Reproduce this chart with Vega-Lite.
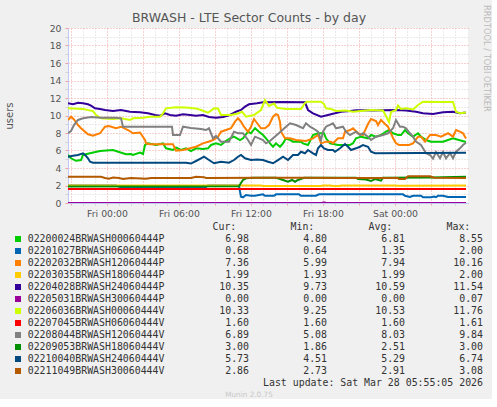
{
"$schema": "https://vega.github.io/schema/vega-lite/v6.json",
"background": "#f0f0f0",
"padding": {"left": 4, "top": 5, "right": 0, "bottom": 0},
"bounds": "flush",
"spacing": 24,
"title": {"text": "RRDTOOL / TOBI OETIKER", "orient": "right", "anchor": "start", "frame": "group", "fontSize": 8.3, "font": "DejaVu Sans", "fontWeight": "normal", "color": "#bbbbbb", "offset": 0, "dx": -23},
"config": {"view": {"stroke": null}, "font": "DejaVu Sans"},
"datasets": {
"stats": [
{"name": "02200024BRWASH00060444P", "Cur": 6.98, "Min": 4.80, "Avg": 6.81, "Max": 8.55},
{"name": "02201027BRWASH06060444P", "Cur": 0.68, "Min": 0.64, "Avg": 1.35, "Max": 2.00},
{"name": "02202032BRWASH12060444P", "Cur": 7.36, "Min": 5.99, "Avg": 7.94, "Max": 10.16},
{"name": "02203035BRWASH18060444P", "Cur": 1.99, "Min": 1.93, "Avg": 1.99, "Max": 2.00},
{"name": "02204028BRWASH24060444P", "Cur": 10.35, "Min": 9.73, "Avg": 10.59, "Max": 11.54},
{"name": "02205031BRWASH30060444P", "Cur": 0.00, "Min": 0.00, "Avg": 0.00, "Max": 0.07},
{"name": "02206036BRWASH00060444V", "Cur": 10.33, "Min": 9.25, "Avg": 10.53, "Max": 11.76},
{"name": "02207045BRWASH06060444V", "Cur": 1.60, "Min": 1.60, "Avg": 1.60, "Max": 1.61},
{"name": "02208044BRWASH12060444V", "Cur": 6.89, "Min": 5.08, "Avg": 8.03, "Max": 9.84},
{"name": "02209053BRWASH18060444V", "Cur": 3.00, "Min": 1.86, "Avg": 2.51, "Max": 3.00},
{"name": "02210040BRWASH24060444V", "Cur": 5.73, "Min": 4.51, "Avg": 5.29, "Max": 6.74},
{"name": "02211049BRWASH30060444V", "Cur": 2.86, "Min": 2.73, "Avg": 2.91, "Max": 3.08}
],
"notes": [
{"row": "hdr", "col": "Cur", "text": "Cur:"},
{"row": "hdr", "col": "Min", "text": "Min:"},
{"row": "hdr", "col": "Avg", "text": "Avg:"},
{"row": "hdr", "col": "Max", "text": "Max:"},
{"row": "upd", "col": "Max", "text": "Last update: Sat Mar 28 05:55:05 2026"},
{"row": "mun", "col": "Cur", "text": "Munin 2.0.75"}
],
"lines": [
{"s":"02200024BRWASH00060444P","t":"2026-03-26T20:45Z","v":5.49},
{"s":"02200024BRWASH00060444P","t":"2026-03-26T21:00Z","v":5.11},
{"s":"02200024BRWASH00060444P","t":"2026-03-26T21:25Z","v":4.82},
{"s":"02200024BRWASH00060444P","t":"2026-03-26T21:50Z","v":4.91},
{"s":"02200024BRWASH00060444P","t":"2026-03-26T22:00Z","v":5.49},
{"s":"02200024BRWASH00060444P","t":"2026-03-26T22:35Z","v":5.68},
{"s":"02200024BRWASH00060444P","t":"2026-03-26T23:25Z","v":5.94},
{"s":"02200024BRWASH00060444P","t":"2026-03-27T00:30Z","v":6.06},
{"s":"02200024BRWASH00060444P","t":"2026-03-27T01:00Z","v":5.83},
{"s":"02200024BRWASH00060444P","t":"2026-03-27T01:35Z","v":5.57},
{"s":"02200024BRWASH00060444P","t":"2026-03-27T02:00Z","v":5.6},
{"s":"02200024BRWASH00060444P","t":"2026-03-27T02:10Z","v":5.49},
{"s":"02200024BRWASH00060444P","t":"2026-03-27T02:45Z","v":5.77},
{"s":"02200024BRWASH00060444P","t":"2026-03-27T03:00Z","v":5.6},
{"s":"02200024BRWASH00060444P","t":"2026-03-27T03:10Z","v":6.63},
{"s":"02200024BRWASH00060444P","t":"2026-03-27T03:25Z","v":6.82},
{"s":"02200024BRWASH00060444P","t":"2026-03-27T04:05Z","v":6.63},
{"s":"02200024BRWASH00060444P","t":"2026-03-27T04:40Z","v":6.82},
{"s":"02200024BRWASH00060444P","t":"2026-03-27T04:55Z","v":6.25},
{"s":"02200024BRWASH00060444P","t":"2026-03-27T05:30Z","v":6.06},
{"s":"02200024BRWASH00060444P","t":"2026-03-27T05:45Z","v":6.34},
{"s":"02200024BRWASH00060444P","t":"2026-03-27T06:10Z","v":6.06},
{"s":"02200024BRWASH00060444P","t":"2026-03-27T06:35Z","v":6.25},
{"s":"02200024BRWASH00060444P","t":"2026-03-27T07:00Z","v":5.94},
{"s":"02200024BRWASH00060444P","t":"2026-03-27T07:25Z","v":6.25},
{"s":"02200024BRWASH00060444P","t":"2026-03-27T08:00Z","v":6.17},
{"s":"02200024BRWASH00060444P","t":"2026-03-27T08:25Z","v":6.25},
{"s":"02200024BRWASH00060444P","t":"2026-03-27T08:40Z","v":6.63},
{"s":"02200024BRWASH00060444P","t":"2026-03-27T09:05Z","v":6.82},
{"s":"02200024BRWASH00060444P","t":"2026-03-27T09:30Z","v":6.63},
{"s":"02200024BRWASH00060444P","t":"2026-03-27T09:50Z","v":7.01},
{"s":"02200024BRWASH00060444P","t":"2026-03-27T10:15Z","v":7.39},
{"s":"02200024BRWASH00060444P","t":"2026-03-27T10:35Z","v":7.58},
{"s":"02200024BRWASH00060444P","t":"2026-03-27T11:05Z","v":7.2},
{"s":"02200024BRWASH00060444P","t":"2026-03-27T11:20Z","v":7.39},
{"s":"02200024BRWASH00060444P","t":"2026-03-27T11:45Z","v":8.15},
{"s":"02200024BRWASH00060444P","t":"2026-03-27T12:00Z","v":7.97},
{"s":"02200024BRWASH00060444P","t":"2026-03-27T12:20Z","v":8.55},
{"s":"02200024BRWASH00060444P","t":"2026-03-27T12:40Z","v":8.15},
{"s":"02200024BRWASH00060444P","t":"2026-03-27T13:00Z","v":7.77},
{"s":"02200024BRWASH00060444P","t":"2026-03-27T13:15Z","v":7.39},
{"s":"02200024BRWASH00060444P","t":"2026-03-27T13:35Z","v":6.82},
{"s":"02200024BRWASH00060444P","t":"2026-03-27T13:50Z","v":6.43},
{"s":"02200024BRWASH00060444P","t":"2026-03-27T14:05Z","v":6.82},
{"s":"02200024BRWASH00060444P","t":"2026-03-27T14:25Z","v":6.43},
{"s":"02200024BRWASH00060444P","t":"2026-03-27T14:40Z","v":6.82},
{"s":"02200024BRWASH00060444P","t":"2026-03-27T14:55Z","v":7.39},
{"s":"02200024BRWASH00060444P","t":"2026-03-27T15:15Z","v":7.2},
{"s":"02200024BRWASH00060444P","t":"2026-03-27T15:30Z","v":7.01},
{"s":"02200024BRWASH00060444P","t":"2026-03-27T16:10Z","v":7.01},
{"s":"02200024BRWASH00060444P","t":"2026-03-27T16:20Z","v":6.82},
{"s":"02200024BRWASH00060444P","t":"2026-03-27T16:45Z","v":6.63},
{"s":"02200024BRWASH00060444P","t":"2026-03-27T16:55Z","v":7.09},
{"s":"02200024BRWASH00060444P","t":"2026-03-27T17:10Z","v":7.77},
{"s":"02200024BRWASH00060444P","t":"2026-03-27T17:35Z","v":7.97},
{"s":"02200024BRWASH00060444P","t":"2026-03-27T18:05Z","v":7.97},
{"s":"02200024BRWASH00060444P","t":"2026-03-27T18:15Z","v":7.39},
{"s":"02200024BRWASH00060444P","t":"2026-03-27T18:35Z","v":6.82},
{"s":"02200024BRWASH00060444P","t":"2026-03-27T19:15Z","v":6.63},
{"s":"02200024BRWASH00060444P","t":"2026-03-27T20:15Z","v":6.63},
{"s":"02200024BRWASH00060444P","t":"2026-03-27T20:30Z","v":6.82},
{"s":"02200024BRWASH00060444P","t":"2026-03-27T20:45Z","v":7.39},
{"s":"02200024BRWASH00060444P","t":"2026-03-27T21:10Z","v":7.58},
{"s":"02200024BRWASH00060444P","t":"2026-03-27T21:45Z","v":7.39},
{"s":"02200024BRWASH00060444P","t":"2026-03-27T22:00Z","v":7.77},
{"s":"02200024BRWASH00060444P","t":"2026-03-27T22:25Z","v":7.58},
{"s":"02200024BRWASH00060444P","t":"2026-03-27T22:50Z","v":7.77},
{"s":"02200024BRWASH00060444P","t":"2026-03-27T23:15Z","v":8.15},
{"s":"02200024BRWASH00060444P","t":"2026-03-27T23:30Z","v":8.34},
{"s":"02200024BRWASH00060444P","t":"2026-03-27T23:50Z","v":7.97},
{"s":"02200024BRWASH00060444P","t":"2026-03-28T00:15Z","v":7.77},
{"s":"02200024BRWASH00060444P","t":"2026-03-28T00:30Z","v":7.77},
{"s":"02200024BRWASH00060444P","t":"2026-03-28T00:50Z","v":8.34},
{"s":"02200024BRWASH00060444P","t":"2026-03-28T01:05Z","v":7.97},
{"s":"02200024BRWASH00060444P","t":"2026-03-28T01:30Z","v":7.58},
{"s":"02200024BRWASH00060444P","t":"2026-03-28T01:55Z","v":7.97},
{"s":"02200024BRWASH00060444P","t":"2026-03-28T02:10Z","v":7.58},
{"s":"02200024BRWASH00060444P","t":"2026-03-28T02:35Z","v":7.2},
{"s":"02200024BRWASH00060444P","t":"2026-03-28T03:00Z","v":7.01},
{"s":"02200024BRWASH00060444P","t":"2026-03-28T04:00Z","v":7.01},
{"s":"02200024BRWASH00060444P","t":"2026-03-28T04:25Z","v":7.2},
{"s":"02200024BRWASH00060444P","t":"2026-03-28T04:50Z","v":7.39},
{"s":"02200024BRWASH00060444P","t":"2026-03-28T05:55Z","v":6.98},
{"s":"02201027BRWASH06060444P","t":"2026-03-26T20:45Z","v":2.0},
{"s":"02201027BRWASH06060444P","t":"2026-03-27T00:45Z","v":2.0},
{"s":"02201027BRWASH06060444P","t":"2026-03-27T01:05Z","v":1.82},
{"s":"02201027BRWASH06060444P","t":"2026-03-27T08:15Z","v":1.82},
{"s":"02201027BRWASH06060444P","t":"2026-03-27T08:25Z","v":2.0},
{"s":"02201027BRWASH06060444P","t":"2026-03-27T11:00Z","v":2.0},
{"s":"02201027BRWASH06060444P","t":"2026-03-27T11:05Z","v":1.3},
{"s":"02201027BRWASH06060444P","t":"2026-03-27T11:10Z","v":0.72},
{"s":"02201027BRWASH06060444P","t":"2026-03-27T11:20Z","v":0.64},
{"s":"02201027BRWASH06060444P","t":"2026-03-27T11:35Z","v":0.91},
{"s":"02201027BRWASH06060444P","t":"2026-03-27T12:00Z","v":0.83},
{"s":"02201027BRWASH06060444P","t":"2026-03-27T12:20Z","v":0.83},
{"s":"02201027BRWASH06060444P","t":"2026-03-27T12:40Z","v":0.91},
{"s":"02201027BRWASH06060444P","t":"2026-03-27T13:00Z","v":0.99},
{"s":"02201027BRWASH06060444P","t":"2026-03-27T13:10Z","v":0.83},
{"s":"02201027BRWASH06060444P","t":"2026-03-27T13:55Z","v":0.83},
{"s":"02201027BRWASH06060444P","t":"2026-03-27T14:05Z","v":0.99},
{"s":"02201027BRWASH06060444P","t":"2026-03-27T16:00Z","v":0.99},
{"s":"02201027BRWASH06060444P","t":"2026-03-27T16:10Z","v":0.83},
{"s":"02201027BRWASH06060444P","t":"2026-03-27T17:25Z","v":0.83},
{"s":"02201027BRWASH06060444P","t":"2026-03-27T17:40Z","v":0.99},
{"s":"02201027BRWASH06060444P","t":"2026-03-28T00:40Z","v":0.99},
{"s":"02201027BRWASH06060444P","t":"2026-03-28T00:50Z","v":0.83},
{"s":"02201027BRWASH06060444P","t":"2026-03-28T01:15Z","v":0.69},
{"s":"02201027BRWASH06060444P","t":"2026-03-28T01:30Z","v":0.83},
{"s":"02201027BRWASH06060444P","t":"2026-03-28T02:10Z","v":0.83},
{"s":"02201027BRWASH06060444P","t":"2026-03-28T02:20Z","v":0.66},
{"s":"02201027BRWASH06060444P","t":"2026-03-28T03:00Z","v":0.66},
{"s":"02201027BRWASH06060444P","t":"2026-03-28T03:15Z","v":0.74},
{"s":"02201027BRWASH06060444P","t":"2026-03-28T03:25Z","v":0.66},
{"s":"02201027BRWASH06060444P","t":"2026-03-28T03:35Z","v":0.83},
{"s":"02201027BRWASH06060444P","t":"2026-03-28T04:00Z","v":0.83},
{"s":"02201027BRWASH06060444P","t":"2026-03-28T04:25Z","v":0.69},
{"s":"02201027BRWASH06060444P","t":"2026-03-28T05:55Z","v":0.68},
{"s":"02202032BRWASH12060444P","t":"2026-03-26T20:45Z","v":9.49},
{"s":"02202032BRWASH12060444P","t":"2026-03-26T21:00Z","v":9.86},
{"s":"02202032BRWASH12060444P","t":"2026-03-26T21:15Z","v":9.54},
{"s":"02202032BRWASH12060444P","t":"2026-03-26T21:35Z","v":8.91},
{"s":"02202032BRWASH12060444P","t":"2026-03-26T21:50Z","v":8.54},
{"s":"02202032BRWASH12060444P","t":"2026-03-26T22:25Z","v":7.85},
{"s":"02202032BRWASH12060444P","t":"2026-03-26T22:50Z","v":7.69},
{"s":"02202032BRWASH12060444P","t":"2026-03-26T23:25Z","v":7.97},
{"s":"02202032BRWASH12060444P","t":"2026-03-26T23:50Z","v":8.72},
{"s":"02202032BRWASH12060444P","t":"2026-03-27T00:10Z","v":8.8},
{"s":"02202032BRWASH12060444P","t":"2026-03-27T00:45Z","v":8.54},
{"s":"02202032BRWASH12060444P","t":"2026-03-27T01:10Z","v":8.72},
{"s":"02202032BRWASH12060444P","t":"2026-03-27T01:45Z","v":8.34},
{"s":"02202032BRWASH12060444P","t":"2026-03-27T02:10Z","v":7.97},
{"s":"02202032BRWASH12060444P","t":"2026-03-27T02:45Z","v":8.06},
{"s":"02202032BRWASH12060444P","t":"2026-03-27T03:10Z","v":7.2},
{"s":"02202032BRWASH12060444P","t":"2026-03-27T03:15Z","v":6.82},
{"s":"02202032BRWASH12060444P","t":"2026-03-27T03:35Z","v":6.71},
{"s":"02202032BRWASH12060444P","t":"2026-03-27T05:30Z","v":6.71},
{"s":"02202032BRWASH12060444P","t":"2026-03-27T05:45Z","v":5.99},
{"s":"02202032BRWASH12060444P","t":"2026-03-27T06:20Z","v":6.06},
{"s":"02202032BRWASH12060444P","t":"2026-03-27T06:55Z","v":6.25},
{"s":"02202032BRWASH12060444P","t":"2026-03-27T07:25Z","v":6.43},
{"s":"02202032BRWASH12060444P","t":"2026-03-27T08:00Z","v":6.82},
{"s":"02202032BRWASH12060444P","t":"2026-03-27T08:30Z","v":7.03},
{"s":"02202032BRWASH12060444P","t":"2026-03-27T08:50Z","v":7.2},
{"s":"02202032BRWASH12060444P","t":"2026-03-27T09:15Z","v":7.58},
{"s":"02202032BRWASH12060444P","t":"2026-03-27T09:30Z","v":8.15},
{"s":"02202032BRWASH12060444P","t":"2026-03-27T09:55Z","v":8.34},
{"s":"02202032BRWASH12060444P","t":"2026-03-27T10:20Z","v":8.54},
{"s":"02202032BRWASH12060444P","t":"2026-03-27T10:40Z","v":9.29},
{"s":"02202032BRWASH12060444P","t":"2026-03-27T10:55Z","v":9.68},
{"s":"02202032BRWASH12060444P","t":"2026-03-27T11:10Z","v":9.29},
{"s":"02202032BRWASH12060444P","t":"2026-03-27T11:25Z","v":8.72},
{"s":"02202032BRWASH12060444P","t":"2026-03-27T11:45Z","v":8.15},
{"s":"02202032BRWASH12060444P","t":"2026-03-27T12:00Z","v":8.72},
{"s":"02202032BRWASH12060444P","t":"2026-03-27T12:15Z","v":9.6},
{"s":"02202032BRWASH12060444P","t":"2026-03-27T12:30Z","v":9.14},
{"s":"02202032BRWASH12060444P","t":"2026-03-27T12:50Z","v":8.54},
{"s":"02202032BRWASH12060444P","t":"2026-03-27T13:10Z","v":8.54},
{"s":"02202032BRWASH12060444P","t":"2026-03-27T13:30Z","v":8.91},
{"s":"02202032BRWASH12060444P","t":"2026-03-27T13:50Z","v":9.86},
{"s":"02202032BRWASH12060444P","t":"2026-03-27T14:05Z","v":10.16},
{"s":"02202032BRWASH12060444P","t":"2026-03-27T14:15Z","v":10.06},
{"s":"02202032BRWASH12060444P","t":"2026-03-27T14:25Z","v":9.26},
{"s":"02202032BRWASH12060444P","t":"2026-03-27T14:30Z","v":8.15},
{"s":"02202032BRWASH12060444P","t":"2026-03-27T14:50Z","v":7.39},
{"s":"02202032BRWASH12060444P","t":"2026-03-27T15:15Z","v":7.39},
{"s":"02202032BRWASH12060444P","t":"2026-03-27T15:45Z","v":7.2},
{"s":"02202032BRWASH12060444P","t":"2026-03-27T16:35Z","v":7.09},
{"s":"02202032BRWASH12060444P","t":"2026-03-27T17:10Z","v":7.39},
{"s":"02202032BRWASH12060444P","t":"2026-03-27T17:35Z","v":7.77},
{"s":"02202032BRWASH12060444P","t":"2026-03-27T17:50Z","v":6.82},
{"s":"02202032BRWASH12060444P","t":"2026-03-27T18:15Z","v":7.01},
{"s":"02202032BRWASH12060444P","t":"2026-03-27T18:40Z","v":7.01},
{"s":"02202032BRWASH12060444P","t":"2026-03-27T18:50Z","v":6.82},
{"s":"02202032BRWASH12060444P","t":"2026-03-27T19:15Z","v":7.39},
{"s":"02202032BRWASH12060444P","t":"2026-03-27T19:40Z","v":7.39},
{"s":"02202032BRWASH12060444P","t":"2026-03-27T19:50Z","v":8.15},
{"s":"02202032BRWASH12060444P","t":"2026-03-27T20:15Z","v":8.34},
{"s":"02202032BRWASH12060444P","t":"2026-03-27T20:30Z","v":8.54},
{"s":"02202032BRWASH12060444P","t":"2026-03-27T20:55Z","v":7.97},
{"s":"02202032BRWASH12060444P","t":"2026-03-27T21:20Z","v":7.77},
{"s":"02202032BRWASH12060444P","t":"2026-03-27T21:45Z","v":9.03},
{"s":"02202032BRWASH12060444P","t":"2026-03-27T22:00Z","v":9.6},
{"s":"02202032BRWASH12060444P","t":"2026-03-27T22:25Z","v":9.37},
{"s":"02202032BRWASH12060444P","t":"2026-03-27T22:35Z","v":8.91},
{"s":"02202032BRWASH12060444P","t":"2026-03-27T22:50Z","v":9.49},
{"s":"02202032BRWASH12060444P","t":"2026-03-27T23:10Z","v":9.03},
{"s":"02202032BRWASH12060444P","t":"2026-03-27T23:25Z","v":8.72},
{"s":"02202032BRWASH12060444P","t":"2026-03-27T23:50Z","v":7.43},
{"s":"02202032BRWASH12060444P","t":"2026-03-28T00:05Z","v":6.82},
{"s":"02202032BRWASH12060444P","t":"2026-03-28T00:20Z","v":6.63},
{"s":"02202032BRWASH12060444P","t":"2026-03-28T01:10Z","v":6.63},
{"s":"02202032BRWASH12060444P","t":"2026-03-28T01:30Z","v":6.82},
{"s":"02202032BRWASH12060444P","t":"2026-03-28T01:55Z","v":7.58},
{"s":"02202032BRWASH12060444P","t":"2026-03-28T02:10Z","v":7.58},
{"s":"02202032BRWASH12060444P","t":"2026-03-28T02:30Z","v":7.01},
{"s":"02202032BRWASH12060444P","t":"2026-03-28T02:55Z","v":7.77},
{"s":"02202032BRWASH12060444P","t":"2026-03-28T03:25Z","v":7.77},
{"s":"02202032BRWASH12060444P","t":"2026-03-28T03:50Z","v":7.58},
{"s":"02202032BRWASH12060444P","t":"2026-03-28T04:25Z","v":7.97},
{"s":"02202032BRWASH12060444P","t":"2026-03-28T04:50Z","v":7.58},
{"s":"02202032BRWASH12060444P","t":"2026-03-28T05:05Z","v":8.34},
{"s":"02202032BRWASH12060444P","t":"2026-03-28T05:25Z","v":8.15},
{"s":"02202032BRWASH12060444P","t":"2026-03-28T05:40Z","v":7.97},
{"s":"02202032BRWASH12060444P","t":"2026-03-28T05:55Z","v":7.36},
{"s":"02203035BRWASH18060444P","t":"2026-03-26T20:45Z","v":2.0},
{"s":"02203035BRWASH18060444P","t":"2026-03-27T12:50Z","v":2.0},
{"s":"02203035BRWASH18060444P","t":"2026-03-27T13:00Z","v":1.95},
{"s":"02203035BRWASH18060444P","t":"2026-03-27T17:50Z","v":1.95},
{"s":"02203035BRWASH18060444P","t":"2026-03-27T18:00Z","v":2.0},
{"s":"02203035BRWASH18060444P","t":"2026-03-27T18:40Z","v":2.0},
{"s":"02203035BRWASH18060444P","t":"2026-03-27T18:45Z","v":1.94},
{"s":"02203035BRWASH18060444P","t":"2026-03-27T19:25Z","v":1.94},
{"s":"02203035BRWASH18060444P","t":"2026-03-27T19:30Z","v":2.0},
{"s":"02203035BRWASH18060444P","t":"2026-03-28T00:05Z","v":2.0},
{"s":"02203035BRWASH18060444P","t":"2026-03-28T00:10Z","v":1.96},
{"s":"02203035BRWASH18060444P","t":"2026-03-28T05:55Z","v":1.99},
{"s":"02204028BRWASH24060444P","t":"2026-03-26T20:45Z","v":11.39},
{"s":"02204028BRWASH24060444P","t":"2026-03-26T21:10Z","v":11.28},
{"s":"02204028BRWASH24060444P","t":"2026-03-26T21:35Z","v":11.46},
{"s":"02204028BRWASH24060444P","t":"2026-03-26T22:00Z","v":11.39},
{"s":"02204028BRWASH24060444P","t":"2026-03-26T22:25Z","v":11.28},
{"s":"02204028BRWASH24060444P","t":"2026-03-26T22:40Z","v":11.12},
{"s":"02204028BRWASH24060444P","t":"2026-03-26T23:00Z","v":10.82},
{"s":"02204028BRWASH24060444P","t":"2026-03-26T23:25Z","v":10.74},
{"s":"02204028BRWASH24060444P","t":"2026-03-26T23:50Z","v":10.63},
{"s":"02204028BRWASH24060444P","t":"2026-03-27T00:30Z","v":10.51},
{"s":"02204028BRWASH24060444P","t":"2026-03-27T01:10Z","v":10.63},
{"s":"02204028BRWASH24060444P","t":"2026-03-27T01:55Z","v":10.43},
{"s":"02204028BRWASH24060444P","t":"2026-03-27T02:45Z","v":10.37},
{"s":"02204028BRWASH24060444P","t":"2026-03-27T03:25Z","v":10.25},
{"s":"02204028BRWASH24060444P","t":"2026-03-27T04:00Z","v":10.06},
{"s":"02204028BRWASH24060444P","t":"2026-03-27T04:25Z","v":9.98},
{"s":"02204028BRWASH24060444P","t":"2026-03-27T04:50Z","v":10.25},
{"s":"02204028BRWASH24060444P","t":"2026-03-27T05:15Z","v":10.06},
{"s":"02204028BRWASH24060444P","t":"2026-03-27T05:45Z","v":9.98},
{"s":"02204028BRWASH24060444P","t":"2026-03-27T06:20Z","v":10.14},
{"s":"02204028BRWASH24060444P","t":"2026-03-27T06:55Z","v":10.06},
{"s":"02204028BRWASH24060444P","t":"2026-03-27T07:25Z","v":9.98},
{"s":"02204028BRWASH24060444P","t":"2026-03-27T08:00Z","v":10.06},
{"s":"02204028BRWASH24060444P","t":"2026-03-27T08:30Z","v":9.83},
{"s":"02204028BRWASH24060444P","t":"2026-03-27T09:05Z","v":9.75},
{"s":"02204028BRWASH24060444P","t":"2026-03-27T09:40Z","v":9.83},
{"s":"02204028BRWASH24060444P","t":"2026-03-27T10:15Z","v":10.06},
{"s":"02204028BRWASH24060444P","t":"2026-03-27T10:45Z","v":10.43},
{"s":"02204028BRWASH24060444P","t":"2026-03-27T11:10Z","v":10.63},
{"s":"02204028BRWASH24060444P","t":"2026-03-27T11:30Z","v":11.01},
{"s":"02204028BRWASH24060444P","t":"2026-03-27T11:50Z","v":11.28},
{"s":"02204028BRWASH24060444P","t":"2026-03-27T12:30Z","v":11.39},
{"s":"02204028BRWASH24060444P","t":"2026-03-27T13:00Z","v":11.51},
{"s":"02204028BRWASH24060444P","t":"2026-03-27T14:40Z","v":11.54},
{"s":"02204028BRWASH24060444P","t":"2026-03-27T16:30Z","v":11.51},
{"s":"02204028BRWASH24060444P","t":"2026-03-27T16:45Z","v":10.63},
{"s":"02204028BRWASH24060444P","t":"2026-03-27T17:10Z","v":10.25},
{"s":"02204028BRWASH24060444P","t":"2026-03-27T17:50Z","v":9.86},
{"s":"02204028BRWASH24060444P","t":"2026-03-27T18:25Z","v":10.06},
{"s":"02204028BRWASH24060444P","t":"2026-03-27T19:00Z","v":10.25},
{"s":"02204028BRWASH24060444P","t":"2026-03-27T19:30Z","v":10.43},
{"s":"02204028BRWASH24060444P","t":"2026-03-27T20:15Z","v":10.51},
{"s":"02204028BRWASH24060444P","t":"2026-03-27T20:45Z","v":10.59},
{"s":"02204028BRWASH24060444P","t":"2026-03-27T21:20Z","v":10.59},
{"s":"02204028BRWASH24060444P","t":"2026-03-27T22:10Z","v":10.56},
{"s":"02204028BRWASH24060444P","t":"2026-03-27T23:00Z","v":10.59},
{"s":"02204028BRWASH24060444P","t":"2026-03-28T00:05Z","v":10.63},
{"s":"02204028BRWASH24060444P","t":"2026-03-28T00:55Z","v":10.56},
{"s":"02204028BRWASH24060444P","t":"2026-03-28T01:45Z","v":10.43},
{"s":"02204028BRWASH24060444P","t":"2026-03-28T02:20Z","v":10.25},
{"s":"02204028BRWASH24060444P","t":"2026-03-28T03:10Z","v":10.17},
{"s":"02204028BRWASH24060444P","t":"2026-03-28T04:00Z","v":10.37},
{"s":"02204028BRWASH24060444P","t":"2026-03-28T04:50Z","v":10.43},
{"s":"02204028BRWASH24060444P","t":"2026-03-28T05:25Z","v":10.25},
{"s":"02204028BRWASH24060444P","t":"2026-03-28T05:55Z","v":10.35},
{"s":"02205031BRWASH30060444P","t":"2026-03-26T20:45Z","v":0},
{"s":"02205031BRWASH30060444P","t":"2026-03-27T17:55Z","v":0},
{"s":"02205031BRWASH30060444P","t":"2026-03-27T18:00Z","v":0.07},
{"s":"02205031BRWASH30060444P","t":"2026-03-27T18:10Z","v":0.07},
{"s":"02205031BRWASH30060444P","t":"2026-03-27T18:15Z","v":0},
{"s":"02205031BRWASH30060444P","t":"2026-03-28T05:55Z","v":0},
{"s":"02206036BRWASH00060444V","t":"2026-03-26T20:45Z","v":10.82},
{"s":"02206036BRWASH00060444V","t":"2026-03-26T22:00Z","v":10.74},
{"s":"02206036BRWASH00060444V","t":"2026-03-26T22:50Z","v":10.51},
{"s":"02206036BRWASH00060444V","t":"2026-03-26T23:05Z","v":10.06},
{"s":"02206036BRWASH00060444V","t":"2026-03-26T23:30Z","v":9.68},
{"s":"02206036BRWASH00060444V","t":"2026-03-27T00:30Z","v":9.6},
{"s":"02206036BRWASH00060444V","t":"2026-03-27T01:10Z","v":9.68},
{"s":"02206036BRWASH00060444V","t":"2026-03-27T01:55Z","v":9.49},
{"s":"02206036BRWASH00060444V","t":"2026-03-27T02:10Z","v":9.68},
{"s":"02206036BRWASH00060444V","t":"2026-03-27T03:00Z","v":9.75},
{"s":"02206036BRWASH00060444V","t":"2026-03-27T03:35Z","v":9.86},
{"s":"02206036BRWASH00060444V","t":"2026-03-27T04:25Z","v":9.86},
{"s":"02206036BRWASH00060444V","t":"2026-03-27T04:40Z","v":10.25},
{"s":"02206036BRWASH00060444V","t":"2026-03-27T04:55Z","v":10.82},
{"s":"02206036BRWASH00060444V","t":"2026-03-27T05:45Z","v":10.94},
{"s":"02206036BRWASH00060444V","t":"2026-03-27T06:35Z","v":10.91},
{"s":"02206036BRWASH00060444V","t":"2026-03-27T07:25Z","v":10.8},
{"s":"02206036BRWASH00060444V","t":"2026-03-27T07:50Z","v":10.63},
{"s":"02206036BRWASH00060444V","t":"2026-03-27T08:25Z","v":10.32},
{"s":"02206036BRWASH00060444V","t":"2026-03-27T08:55Z","v":10.82},
{"s":"02206036BRWASH00060444V","t":"2026-03-27T09:15Z","v":10.8},
{"s":"02206036BRWASH00060444V","t":"2026-03-27T09:30Z","v":10.06},
{"s":"02206036BRWASH00060444V","t":"2026-03-27T10:20Z","v":10.06},
{"s":"02206036BRWASH00060444V","t":"2026-03-27T10:55Z","v":10.23},
{"s":"02206036BRWASH00060444V","t":"2026-03-27T11:15Z","v":10.43},
{"s":"02206036BRWASH00060444V","t":"2026-03-27T11:35Z","v":9.86},
{"s":"02206036BRWASH00060444V","t":"2026-03-27T12:15Z","v":10.06},
{"s":"02206036BRWASH00060444V","t":"2026-03-27T12:50Z","v":10.63},
{"s":"02206036BRWASH00060444V","t":"2026-03-27T13:10Z","v":11.76},
{"s":"02206036BRWASH00060444V","t":"2026-03-27T13:30Z","v":11.09},
{"s":"02206036BRWASH00060444V","t":"2026-03-27T13:55Z","v":11.37},
{"s":"02206036BRWASH00060444V","t":"2026-03-27T14:10Z","v":10.89},
{"s":"02206036BRWASH00060444V","t":"2026-03-27T14:55Z","v":10.74},
{"s":"02206036BRWASH00060444V","t":"2026-03-27T16:10Z","v":10.74},
{"s":"02206036BRWASH00060444V","t":"2026-03-27T16:30Z","v":11.43},
{"s":"02206036BRWASH00060444V","t":"2026-03-27T16:40Z","v":11.58},
{"s":"02206036BRWASH00060444V","t":"2026-03-27T17:50Z","v":11.58},
{"s":"02206036BRWASH00060444V","t":"2026-03-27T18:05Z","v":11.31},
{"s":"02206036BRWASH00060444V","t":"2026-03-27T18:15Z","v":10.82},
{"s":"02206036BRWASH00060444V","t":"2026-03-27T18:40Z","v":10.74},
{"s":"02206036BRWASH00060444V","t":"2026-03-27T19:05Z","v":10.51},
{"s":"02206036BRWASH00060444V","t":"2026-03-27T19:55Z","v":10.57},
{"s":"02206036BRWASH00060444V","t":"2026-03-27T20:30Z","v":10.43},
{"s":"02206036BRWASH00060444V","t":"2026-03-27T22:00Z","v":10.63},
{"s":"02206036BRWASH00060444V","t":"2026-03-27T23:00Z","v":10.57},
{"s":"02206036BRWASH00060444V","t":"2026-03-27T23:15Z","v":9.94},
{"s":"02206036BRWASH00060444V","t":"2026-03-27T23:30Z","v":9.26},
{"s":"02206036BRWASH00060444V","t":"2026-03-27T23:40Z","v":10.4},
{"s":"02206036BRWASH00060444V","t":"2026-03-28T00:05Z","v":10.63},
{"s":"02206036BRWASH00060444V","t":"2026-03-28T00:15Z","v":11.14},
{"s":"02206036BRWASH00060444V","t":"2026-03-28T00:30Z","v":10.74},
{"s":"02206036BRWASH00060444V","t":"2026-03-28T00:55Z","v":10.82},
{"s":"02206036BRWASH00060444V","t":"2026-03-28T01:30Z","v":10.69},
{"s":"02206036BRWASH00060444V","t":"2026-03-28T01:55Z","v":11.2},
{"s":"02206036BRWASH00060444V","t":"2026-03-28T02:20Z","v":11.58},
{"s":"02206036BRWASH00060444V","t":"2026-03-28T03:50Z","v":11.54},
{"s":"02206036BRWASH00060444V","t":"2026-03-28T04:50Z","v":11.54},
{"s":"02206036BRWASH00060444V","t":"2026-03-28T05:05Z","v":10.43},
{"s":"02206036BRWASH00060444V","t":"2026-03-28T05:25Z","v":10.25},
{"s":"02206036BRWASH00060444V","t":"2026-03-28T05:55Z","v":10.33},
{"s":"02207045BRWASH06060444V","t":"2026-03-26T20:45Z","v":1.6},
{"s":"02207045BRWASH06060444V","t":"2026-03-28T05:55Z","v":1.6},
{"s":"02208044BRWASH12060444V","t":"2026-03-26T20:45Z","v":7.97},
{"s":"02208044BRWASH12060444V","t":"2026-03-26T21:00Z","v":8.23},
{"s":"02208044BRWASH12060444V","t":"2026-03-26T21:15Z","v":8.91},
{"s":"02208044BRWASH12060444V","t":"2026-03-26T21:35Z","v":9.49},
{"s":"02208044BRWASH12060444V","t":"2026-03-26T22:00Z","v":9.68},
{"s":"02208044BRWASH12060444V","t":"2026-03-26T22:40Z","v":9.84},
{"s":"02208044BRWASH12060444V","t":"2026-03-26T23:30Z","v":9.75},
{"s":"02208044BRWASH12060444V","t":"2026-03-27T00:45Z","v":9.75},
{"s":"02208044BRWASH12060444V","t":"2026-03-27T01:10Z","v":9.68},
{"s":"02208044BRWASH12060444V","t":"2026-03-27T01:20Z","v":8.72},
{"s":"02208044BRWASH12060444V","t":"2026-03-27T05:25Z","v":8.72},
{"s":"02208044BRWASH12060444V","t":"2026-03-27T05:30Z","v":7.77},
{"s":"02208044BRWASH12060444V","t":"2026-03-27T06:05Z","v":7.77},
{"s":"02208044BRWASH12060444V","t":"2026-03-27T06:20Z","v":8.72},
{"s":"02208044BRWASH12060444V","t":"2026-03-27T07:00Z","v":8.57},
{"s":"02208044BRWASH12060444V","t":"2026-03-27T07:50Z","v":8.46},
{"s":"02208044BRWASH12060444V","t":"2026-03-27T08:15Z","v":8.34},
{"s":"02208044BRWASH12060444V","t":"2026-03-27T08:30Z","v":8.54},
{"s":"02208044BRWASH12060444V","t":"2026-03-27T08:50Z","v":7.39},
{"s":"02208044BRWASH12060444V","t":"2026-03-27T09:05Z","v":7.66},
{"s":"02208044BRWASH12060444V","t":"2026-03-27T09:30Z","v":7.01},
{"s":"02208044BRWASH12060444V","t":"2026-03-27T10:10Z","v":7.01},
{"s":"02208044BRWASH12060444V","t":"2026-03-27T10:35Z","v":8.15},
{"s":"02208044BRWASH12060444V","t":"2026-03-27T10:55Z","v":7.97},
{"s":"02208044BRWASH12060444V","t":"2026-03-27T11:20Z","v":7.97},
{"s":"02208044BRWASH12060444V","t":"2026-03-27T11:45Z","v":7.2},
{"s":"02208044BRWASH12060444V","t":"2026-03-27T12:00Z","v":6.63},
{"s":"02208044BRWASH12060444V","t":"2026-03-27T12:20Z","v":7.58},
{"s":"02208044BRWASH12060444V","t":"2026-03-27T12:40Z","v":7.39},
{"s":"02208044BRWASH12060444V","t":"2026-03-27T13:00Z","v":7.2},
{"s":"02208044BRWASH12060444V","t":"2026-03-27T13:15Z","v":6.82},
{"s":"02208044BRWASH12060444V","t":"2026-03-27T13:35Z","v":7.09},
{"s":"02208044BRWASH12060444V","t":"2026-03-27T13:50Z","v":7.39},
{"s":"02208044BRWASH12060444V","t":"2026-03-27T14:15Z","v":7.89},
{"s":"02208044BRWASH12060444V","t":"2026-03-27T14:55Z","v":8.72},
{"s":"02208044BRWASH12060444V","t":"2026-03-27T15:15Z","v":9.11},
{"s":"02208044BRWASH12060444V","t":"2026-03-27T15:45Z","v":8.91},
{"s":"02208044BRWASH12060444V","t":"2026-03-27T16:20Z","v":8.54},
{"s":"02208044BRWASH12060444V","t":"2026-03-27T16:35Z","v":9.11},
{"s":"02208044BRWASH12060444V","t":"2026-03-27T16:55Z","v":8.72},
{"s":"02208044BRWASH12060444V","t":"2026-03-27T17:10Z","v":8.54},
{"s":"02208044BRWASH12060444V","t":"2026-03-27T17:35Z","v":8.15},
{"s":"02208044BRWASH12060444V","t":"2026-03-27T17:50Z","v":7.2},
{"s":"02208044BRWASH12060444V","t":"2026-03-27T18:00Z","v":8.15},
{"s":"02208044BRWASH12060444V","t":"2026-03-27T18:15Z","v":8.72},
{"s":"02208044BRWASH12060444V","t":"2026-03-27T18:50Z","v":9.11},
{"s":"02208044BRWASH12060444V","t":"2026-03-27T19:05Z","v":8.54},
{"s":"02208044BRWASH12060444V","t":"2026-03-27T19:40Z","v":8.72},
{"s":"02208044BRWASH12060444V","t":"2026-03-27T19:55Z","v":8.15},
{"s":"02208044BRWASH12060444V","t":"2026-03-27T20:15Z","v":7.77},
{"s":"02208044BRWASH12060444V","t":"2026-03-27T20:45Z","v":8.15},
{"s":"02208044BRWASH12060444V","t":"2026-03-27T21:05Z","v":7.77},
{"s":"02208044BRWASH12060444V","t":"2026-03-27T21:20Z","v":7.97},
{"s":"02208044BRWASH12060444V","t":"2026-03-27T21:45Z","v":7.58},
{"s":"02208044BRWASH12060444V","t":"2026-03-27T22:00Z","v":7.2},
{"s":"02208044BRWASH12060444V","t":"2026-03-27T22:25Z","v":7.58},
{"s":"02208044BRWASH12060444V","t":"2026-03-27T23:00Z","v":7.77},
{"s":"02208044BRWASH12060444V","t":"2026-03-27T23:25Z","v":7.97},
{"s":"02208044BRWASH12060444V","t":"2026-03-27T23:50Z","v":8.54},
{"s":"02208044BRWASH12060444V","t":"2026-03-28T00:05Z","v":9.49},
{"s":"02208044BRWASH12060444V","t":"2026-03-28T00:25Z","v":8.72},
{"s":"02208044BRWASH12060444V","t":"2026-03-28T00:40Z","v":8.72},
{"s":"02208044BRWASH12060444V","t":"2026-03-28T00:55Z","v":8.54},
{"s":"02208044BRWASH12060444V","t":"2026-03-28T01:15Z","v":7.97},
{"s":"02208044BRWASH12060444V","t":"2026-03-28T01:30Z","v":7.58},
{"s":"02208044BRWASH12060444V","t":"2026-03-28T01:45Z","v":7.01},
{"s":"02208044BRWASH12060444V","t":"2026-03-28T02:10Z","v":6.63},
{"s":"02208044BRWASH12060444V","t":"2026-03-28T02:20Z","v":6.25},
{"s":"02208044BRWASH12060444V","t":"2026-03-28T02:35Z","v":5.68},
{"s":"02208044BRWASH12060444V","t":"2026-03-28T02:55Z","v":5.49},
{"s":"02208044BRWASH12060444V","t":"2026-03-28T03:10Z","v":5.08},
{"s":"02208044BRWASH12060444V","t":"2026-03-28T03:25Z","v":5.83},
{"s":"02208044BRWASH12060444V","t":"2026-03-28T03:45Z","v":5.11},
{"s":"02208044BRWASH12060444V","t":"2026-03-28T04:00Z","v":5.83},
{"s":"02208044BRWASH12060444V","t":"2026-03-28T04:15Z","v":5.11},
{"s":"02208044BRWASH12060444V","t":"2026-03-28T04:35Z","v":5.71},
{"s":"02208044BRWASH12060444V","t":"2026-03-28T04:50Z","v":5.11},
{"s":"02208044BRWASH12060444V","t":"2026-03-28T05:05Z","v":5.86},
{"s":"02208044BRWASH12060444V","t":"2026-03-28T05:25Z","v":6.25},
{"s":"02208044BRWASH12060444V","t":"2026-03-28T05:40Z","v":6.63},
{"s":"02208044BRWASH12060444V","t":"2026-03-28T05:55Z","v":6.89},
{"s":"02209053BRWASH18060444V","t":"2026-03-26T20:45Z","v":1.88},
{"s":"02209053BRWASH18060444V","t":"2026-03-27T11:00Z","v":1.9},
{"s":"02209053BRWASH18060444V","t":"2026-03-27T11:10Z","v":2.29},
{"s":"02209053BRWASH18060444V","t":"2026-03-27T11:20Z","v":2.63},
{"s":"02209053BRWASH18060444V","t":"2026-03-27T11:35Z","v":2.82},
{"s":"02209053BRWASH18060444V","t":"2026-03-27T12:10Z","v":2.89},
{"s":"02209053BRWASH18060444V","t":"2026-03-27T14:05Z","v":2.89},
{"s":"02209053BRWASH18060444V","t":"2026-03-27T14:25Z","v":2.74},
{"s":"02209053BRWASH18060444V","t":"2026-03-27T14:40Z","v":2.63},
{"s":"02209053BRWASH18060444V","t":"2026-03-27T15:05Z","v":2.43},
{"s":"02209053BRWASH18060444V","t":"2026-03-27T15:25Z","v":2.63},
{"s":"02209053BRWASH18060444V","t":"2026-03-27T15:40Z","v":2.43},
{"s":"02209053BRWASH18060444V","t":"2026-03-27T15:55Z","v":2.63},
{"s":"02209053BRWASH18060444V","t":"2026-03-27T16:15Z","v":2.79},
{"s":"02209053BRWASH18060444V","t":"2026-03-27T16:25Z","v":2.89},
{"s":"02209053BRWASH18060444V","t":"2026-03-27T20:45Z","v":2.89},
{"s":"02209053BRWASH18060444V","t":"2026-03-27T20:55Z","v":2.74},
{"s":"02209053BRWASH18060444V","t":"2026-03-27T21:35Z","v":2.69},
{"s":"02209053BRWASH18060444V","t":"2026-03-27T22:00Z","v":2.51},
{"s":"02209053BRWASH18060444V","t":"2026-03-27T22:20Z","v":2.74},
{"s":"02209053BRWASH18060444V","t":"2026-03-27T22:50Z","v":2.55},
{"s":"02209053BRWASH18060444V","t":"2026-03-27T23:00Z","v":2.89},
{"s":"02209053BRWASH18060444V","t":"2026-03-28T03:00Z","v":2.91},
{"s":"02209053BRWASH18060444V","t":"2026-03-28T05:55Z","v":3.0},
{"s":"02210040BRWASH24060444V","t":"2026-03-26T20:45Z","v":5.29},
{"s":"02210040BRWASH24060444V","t":"2026-03-26T21:10Z","v":5.39},
{"s":"02210040BRWASH24060444V","t":"2026-03-26T21:35Z","v":5.49},
{"s":"02210040BRWASH24060444V","t":"2026-03-26T22:00Z","v":5.68},
{"s":"02210040BRWASH24060444V","t":"2026-03-26T22:15Z","v":5.37},
{"s":"02210040BRWASH24060444V","t":"2026-03-26T22:25Z","v":5.11},
{"s":"02210040BRWASH24060444V","t":"2026-03-26T22:35Z","v":4.72},
{"s":"02210040BRWASH24060444V","t":"2026-03-26T22:50Z","v":4.61},
{"s":"02210040BRWASH24060444V","t":"2026-03-27T06:35Z","v":4.61},
{"s":"02210040BRWASH24060444V","t":"2026-03-27T07:00Z","v":4.51},
{"s":"02210040BRWASH24060444V","t":"2026-03-27T07:25Z","v":4.8},
{"s":"02210040BRWASH24060444V","t":"2026-03-27T07:50Z","v":5.11},
{"s":"02210040BRWASH24060444V","t":"2026-03-27T08:05Z","v":5.29},
{"s":"02210040BRWASH24060444V","t":"2026-03-27T08:30Z","v":4.91},
{"s":"02210040BRWASH24060444V","t":"2026-03-27T08:55Z","v":4.54},
{"s":"02210040BRWASH24060444V","t":"2026-03-27T09:30Z","v":4.72},
{"s":"02210040BRWASH24060444V","t":"2026-03-27T10:10Z","v":4.61},
{"s":"02210040BRWASH24060444V","t":"2026-03-27T10:35Z","v":4.91},
{"s":"02210040BRWASH24060444V","t":"2026-03-27T10:55Z","v":5.29},
{"s":"02210040BRWASH24060444V","t":"2026-03-27T11:10Z","v":5.49},
{"s":"02210040BRWASH24060444V","t":"2026-03-27T11:30Z","v":5.11},
{"s":"02210040BRWASH24060444V","t":"2026-03-27T12:00Z","v":4.91},
{"s":"02210040BRWASH24060444V","t":"2026-03-27T12:30Z","v":4.97},
{"s":"02210040BRWASH24060444V","t":"2026-03-27T13:00Z","v":4.91},
{"s":"02210040BRWASH24060444V","t":"2026-03-27T13:25Z","v":4.72},
{"s":"02210040BRWASH24060444V","t":"2026-03-27T13:50Z","v":4.54},
{"s":"02210040BRWASH24060444V","t":"2026-03-27T14:15Z","v":4.91},
{"s":"02210040BRWASH24060444V","t":"2026-03-27T14:40Z","v":5.29},
{"s":"02210040BRWASH24060444V","t":"2026-03-27T15:05Z","v":4.91},
{"s":"02210040BRWASH24060444V","t":"2026-03-27T15:30Z","v":5.49},
{"s":"02210040BRWASH24060444V","t":"2026-03-27T15:55Z","v":5.49},
{"s":"02210040BRWASH24060444V","t":"2026-03-27T16:10Z","v":5.86},
{"s":"02210040BRWASH24060444V","t":"2026-03-27T16:30Z","v":5.68},
{"s":"02210040BRWASH24060444V","t":"2026-03-27T16:45Z","v":6.06},
{"s":"02210040BRWASH24060444V","t":"2026-03-27T17:10Z","v":5.68},
{"s":"02210040BRWASH24060444V","t":"2026-03-27T17:25Z","v":5.49},
{"s":"02210040BRWASH24060444V","t":"2026-03-27T17:35Z","v":6.25},
{"s":"02210040BRWASH24060444V","t":"2026-03-27T17:50Z","v":6.63},
{"s":"02210040BRWASH24060444V","t":"2026-03-27T18:05Z","v":6.25},
{"s":"02210040BRWASH24060444V","t":"2026-03-27T18:25Z","v":6.06},
{"s":"02210040BRWASH24060444V","t":"2026-03-27T18:50Z","v":6.06},
{"s":"02210040BRWASH24060444V","t":"2026-03-27T19:00Z","v":5.86},
{"s":"02210040BRWASH24060444V","t":"2026-03-27T19:25Z","v":6.25},
{"s":"02210040BRWASH24060444V","t":"2026-03-27T19:50Z","v":6.74},
{"s":"02210040BRWASH24060444V","t":"2026-03-27T20:05Z","v":6.43},
{"s":"02210040BRWASH24060444V","t":"2026-03-27T20:20Z","v":6.06},
{"s":"02210040BRWASH24060444V","t":"2026-03-27T20:45Z","v":6.25},
{"s":"02210040BRWASH24060444V","t":"2026-03-27T21:05Z","v":6.43},
{"s":"02210040BRWASH24060444V","t":"2026-03-27T21:20Z","v":6.63},
{"s":"02210040BRWASH24060444V","t":"2026-03-27T21:45Z","v":6.43},
{"s":"02210040BRWASH24060444V","t":"2026-03-27T22:00Z","v":5.86},
{"s":"02210040BRWASH24060444V","t":"2026-03-27T22:20Z","v":5.68},
{"s":"02210040BRWASH24060444V","t":"2026-03-28T05:55Z","v":5.73},
{"s":"02211049BRWASH30060444V","t":"2026-03-26T20:45Z","v":3.0},
{"s":"02211049BRWASH30060444V","t":"2026-03-26T23:30Z","v":3.0},
{"s":"02211049BRWASH30060444V","t":"2026-03-26T23:50Z","v":2.85},
{"s":"02211049BRWASH30060444V","t":"2026-03-27T00:10Z","v":2.78},
{"s":"02211049BRWASH30060444V","t":"2026-03-27T00:30Z","v":2.9},
{"s":"02211049BRWASH30060444V","t":"2026-03-27T01:00Z","v":2.85},
{"s":"02211049BRWASH30060444V","t":"2026-03-27T01:20Z","v":2.75},
{"s":"02211049BRWASH30060444V","t":"2026-03-27T02:00Z","v":2.85},
{"s":"02211049BRWASH30060444V","t":"2026-03-27T03:15Z","v":2.78},
{"s":"02211049BRWASH30060444V","t":"2026-03-27T03:40Z","v":2.86},
{"s":"02211049BRWASH30060444V","t":"2026-03-27T07:00Z","v":2.86},
{"s":"02211049BRWASH30060444V","t":"2026-03-27T07:25Z","v":3.0},
{"s":"02211049BRWASH30060444V","t":"2026-03-27T08:05Z","v":2.95},
{"s":"02211049BRWASH30060444V","t":"2026-03-27T08:15Z","v":2.86},
{"s":"02211049BRWASH30060444V","t":"2026-03-27T13:00Z","v":2.88},
{"s":"02211049BRWASH30060444V","t":"2026-03-27T16:10Z","v":2.88},
{"s":"02211049BRWASH30060444V","t":"2026-03-27T19:30Z","v":2.86},
{"s":"02211049BRWASH30060444V","t":"2026-03-28T00:15Z","v":2.86},
{"s":"02211049BRWASH30060444V","t":"2026-03-28T00:20Z","v":2.75},
{"s":"02211049BRWASH30060444V","t":"2026-03-28T00:50Z","v":2.75},
{"s":"02211049BRWASH30060444V","t":"2026-03-28T01:05Z","v":3.05},
{"s":"02211049BRWASH30060444V","t":"2026-03-28T02:55Z","v":3.05},
{"s":"02211049BRWASH30060444V","t":"2026-03-28T03:15Z","v":2.88},
{"s":"02211049BRWASH30060444V","t":"2026-03-28T05:55Z","v":2.86}
]
},
"vconcat": [
{
"width": 400,
"height": 175,
"view": {"fill": "white", "stroke": null},
"title": {"text": "BRWASH - LTE Sector Counts - by day", "anchor": "middle", "frame": "group", "dx": -19, "fontSize": 12.5, "fontWeight": "normal", "font": "DejaVu Sans", "color": "#555555", "offset": -10, "baseline": "alphabetic"},
"data": {"name": "lines"},
"mark": {"type": "line", "strokeWidth": 2, "clip": true},
"encoding": {
"x": {"field": "t", "type": "temporal",
 "scale": {"type": "utc", "nice": false, "domain": [{"year": 2026, "month": 3, "date": 26, "hours": 20, "minutes": 45, "utc": true}, {"year": 2026, "month": 3, "date": 28, "hours": 6, "minutes": 5, "utc": true}]},
 "axis": {"title": null,
  "values": [
   {"year": 2026, "month": 3, "date": 26, "hours": 21, "utc": true},
   {"year": 2026, "month": 3, "date": 26, "hours": 22, "utc": true},
   {"year": 2026, "month": 3, "date": 26, "hours": 23, "utc": true},
   {"year": 2026, "month": 3, "date": 27, "hours": 0, "utc": true},
   {"year": 2026, "month": 3, "date": 27, "hours": 1, "utc": true},
   {"year": 2026, "month": 3, "date": 27, "hours": 2, "utc": true},
   {"year": 2026, "month": 3, "date": 27, "hours": 3, "utc": true},
   {"year": 2026, "month": 3, "date": 27, "hours": 4, "utc": true},
   {"year": 2026, "month": 3, "date": 27, "hours": 5, "utc": true},
   {"year": 2026, "month": 3, "date": 27, "hours": 6, "utc": true},
   {"year": 2026, "month": 3, "date": 27, "hours": 7, "utc": true},
   {"year": 2026, "month": 3, "date": 27, "hours": 8, "utc": true},
   {"year": 2026, "month": 3, "date": 27, "hours": 9, "utc": true},
   {"year": 2026, "month": 3, "date": 27, "hours": 10, "utc": true},
   {"year": 2026, "month": 3, "date": 27, "hours": 11, "utc": true},
   {"year": 2026, "month": 3, "date": 27, "hours": 12, "utc": true},
   {"year": 2026, "month": 3, "date": 27, "hours": 13, "utc": true},
   {"year": 2026, "month": 3, "date": 27, "hours": 14, "utc": true},
   {"year": 2026, "month": 3, "date": 27, "hours": 15, "utc": true},
   {"year": 2026, "month": 3, "date": 27, "hours": 16, "utc": true},
   {"year": 2026, "month": 3, "date": 27, "hours": 17, "utc": true},
   {"year": 2026, "month": 3, "date": 27, "hours": 18, "utc": true},
   {"year": 2026, "month": 3, "date": 27, "hours": 19, "utc": true},
   {"year": 2026, "month": 3, "date": 27, "hours": 20, "utc": true},
   {"year": 2026, "month": 3, "date": 27, "hours": 21, "utc": true},
   {"year": 2026, "month": 3, "date": 27, "hours": 22, "utc": true},
   {"year": 2026, "month": 3, "date": 27, "hours": 23, "utc": true},
   {"year": 2026, "month": 3, "date": 28, "hours": 0, "utc": true},
   {"year": 2026, "month": 3, "date": 28, "hours": 1, "utc": true},
   {"year": 2026, "month": 3, "date": 28, "hours": 2, "utc": true},
   {"year": 2026, "month": 3, "date": 28, "hours": 3, "utc": true},
   {"year": 2026, "month": 3, "date": 28, "hours": 4, "utc": true},
   {"year": 2026, "month": 3, "date": 28, "hours": 5, "utc": true}
  ],
  "labelExpr": "utchours(datum.value) % 6 == 0 ? utcFormat(datum.value, '%a %H:%M') : ''",
  "labelFont": "DejaVu Sans", "labelFontSize": 9.3, "labelColor": "#555555", "labelPadding": 4,
  "labelFlush": false, "labelOverlap": false, "labelBound": false,
  "grid": true, "gridDash": [1, 2], "gridWidth": 1,
  "gridColor": {"condition": {"test": "utchours(datum.value) % 3 == 0", "value": "#f0a0a0"}, "value": "#d4d4d4"},
  "tickSize": 2,
  "tickColor": {"condition": {"test": "utchours(datum.value) % 3 == 0", "value": "#f0a0a0"}, "value": "#d4d4d4"},
  "domainColor": "#c4c8f4"}},
"y": {"field": "v", "type": "quantitative",
 "scale": {"domain": [0, 20], "nice": false},
 "axis": {"title": "users",
  "values": [0,1,2,3,4,5,6,7,8,9,10,11,12,13,14,15,16,17,18,19,20],
  "labelExpr": "datum.value % 2 == 0 ? datum.label : ''",
  "labelFont": "DejaVu Sans", "labelFontSize": 9.3, "labelColor": "#555555", "labelPadding": 4,
  "grid": true, "gridDash": [1, 2], "gridWidth": 1,
  "gridColor": {"condition": {"test": "datum.value % 2 == 0", "value": "#f0a0a0"}, "value": "#d4d4d4"},
  "tickSize": 3,
  "tickColor": {"condition": {"test": "datum.value % 2 == 0", "value": "#f0a0a0"}, "value": "#d4d4d4"},
  "domainColor": "#c4c8f4",
  "titleFont": "DejaVu Sans", "titleFontSize": 10, "titleFontWeight": "normal", "titleColor": "#555555", "titlePadding": 35}},
"color": {"field": "s", "type": "nominal", "legend": null,
 "scale": {"domain": ["02200024BRWASH00060444P","02201027BRWASH06060444P","02202032BRWASH12060444P","02203035BRWASH18060444P","02204028BRWASH24060444P","02205031BRWASH30060444P","02206036BRWASH00060444V","02207045BRWASH06060444V","02208044BRWASH12060444V","02209053BRWASH18060444V","02210040BRWASH24060444V","02211049BRWASH30060444V"],
  "range": ["#00cc00","#0066b3","#ff8000","#ffcc00","#330099","#990099","#ccff00","#ff0000","#808080","#008f00","#00487d","#b35a00"]}}
}
},
{
"width": 400,
"height": 168,
"view": {"stroke": null, "fill": null},
"layer": [
 {"data": {"name": "stats"},
  "layer": [
   {"mark": {"type": "square", "size": 36, "opacity": 1},
    "encoding": {
     "x": {"datum": "swatch", "type": "nominal", "axis": null, "scale": {"type": "point", "padding": 0, "domain": ["swatch", "name"], "range": [-50, -40.3]}},
     "y": {"field": "name", "type": "nominal", "axis": null,
      "scale": {"type": "point", "padding": 0, "domain": ["hdr","02200024BRWASH00060444P","02201027BRWASH06060444P","02202032BRWASH12060444P","02203035BRWASH18060444P","02204028BRWASH24060444P","02205031BRWASH30060444P","02206036BRWASH00060444V","02207045BRWASH06060444V","02208044BRWASH12060444V","02209053BRWASH18060444V","02210040BRWASH24060444V","02211049BRWASH30060444V","upd","mun"]}},
     "color": {"field": "name", "type": "nominal", "legend": null,
      "scale": {"domain": ["02200024BRWASH00060444P","02201027BRWASH06060444P","02202032BRWASH12060444P","02203035BRWASH18060444P","02204028BRWASH24060444P","02205031BRWASH30060444P","02206036BRWASH00060444V","02207045BRWASH06060444V","02208044BRWASH12060444V","02209053BRWASH18060444V","02210040BRWASH24060444V","02211049BRWASH30060444V"],
       "range": ["#00cc00","#0066b3","#ff8000","#ffcc00","#330099","#990099","#ccff00","#ff0000","#808080","#008f00","#00487d","#b35a00"]}}}},
   {"mark": {"type": "text", "align": "left", "baseline": "middle", "font": "DejaVu Sans Mono", "fontSize": 9.9, "color": "#333333"},
    "encoding": {
     "x": {"datum": "name", "type": "nominal", "axis": null},
     "y": {"field": "name", "type": "nominal", "axis": null},
     "text": {"field": "name"}}}
  ]},
 {"layer": [
   {"data": {"name": "stats"},
    "transform": [{"fold": ["Cur", "Min", "Avg", "Max"], "as": ["col", "val"]}],
    "mark": {"type": "text", "align": "right", "baseline": "middle", "font": "DejaVu Sans Mono", "fontSize": 9.9, "color": "#333333"},
    "encoding": {
     "x": {"field": "col", "type": "nominal", "axis": null, "scale": {"type": "point", "padding": 0, "domain": ["Cur", "Min", "Avg", "Max"], "range": [181, 415]}},
     "y": {"field": "name", "type": "nominal", "axis": null},
     "text": {"field": "val", "type": "quantitative", "format": ".2f"}}},
   {"data": {"name": "notes"},
    "transform": [{"filter": "datum.row == 'hdr'"}],
    "mark": {"type": "text", "align": "right", "baseline": "middle", "dx": -12.7, "font": "DejaVu Sans Mono", "fontSize": 9.9, "color": "#333333"},
    "encoding": {
     "x": {"field": "col", "type": "nominal", "axis": null},
     "y": {"field": "row", "type": "nominal", "axis": null},
     "text": {"field": "text"}}},
   {"data": {"name": "notes"},
    "transform": [{"filter": "datum.row == 'upd'"}],
    "mark": {"type": "text", "align": "right", "baseline": "middle", "font": "DejaVu Sans Mono", "fontSize": 9.9, "color": "#333333"},
    "encoding": {
     "x": {"field": "col", "type": "nominal", "axis": null},
     "y": {"field": "row", "type": "nominal", "axis": null},
     "text": {"field": "text"}}},
   {"data": {"name": "notes"},
    "transform": [{"filter": "datum.row == 'mun'"}],
    "mark": {"type": "text", "align": "center", "baseline": "middle", "font": "DejaVu Sans", "fontSize": 7.3, "color": "#c8c8c8"},
    "encoding": {
     "x": {"field": "col", "type": "nominal", "axis": null},
     "y": {"field": "row", "type": "nominal", "axis": null},
     "text": {"field": "text"}}}
 ]}
],
"resolve": {"scale": {"x": "independent"}}
}
]
}
